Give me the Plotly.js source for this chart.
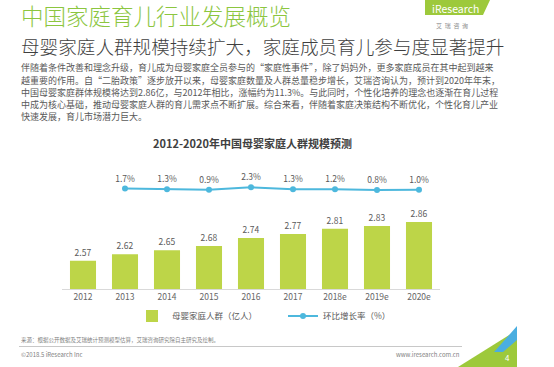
<!DOCTYPE html>
<html>
<head>
<meta charset="utf-8">
<script src="https://cdn.plot.ly/plotly-3.0.1.min.js"></script>
<style>html,body{margin:0;padding:0;background:#fff;}#chart{width:554px;height:367px;}</style>
</head>
<body>
<div id="chart"></div>
<script>
// ---- data ----
const years = ['2012','2013','2014','2015','2016','2017','2018e','2019e','2020e'];
const population = [2.57, 2.62, 2.65, 2.68, 2.74, 2.77, 2.81, 2.83, 2.86];
const growthYears = ['2013','2014','2015','2016','2017','2018e','2019e','2020e'];
const growthRate = [1.7, 1.3, 0.9, 2.3, 1.3, 1.2, 0.8, 1.0];
const barName = '母婴家庭人群（亿人）';
const lineName = '环比增长率（%）';
const chartTitle = '2012-2020年中国母婴家庭人群规模预测';
const pageTitle = '中国家庭育儿行业发展概览';
const pageSubtitle = '母婴家庭人群规模持续扩大，家庭成员育儿参与度显著提升';
const bodyLines = [
  '伴随着条件改善和理念升级，育儿成为母婴家庭全员参与的“家庭性事件”，除了妈妈外，更多家庭成员在其中起到越来',
  '越重要的作用。自“二胎政策”逐步放开以来，母婴家庭数量及人群总量稳步增长，艾瑞咨询认为，预计到2020年年末，',
  '中国母婴家庭群体规模将达到2.86亿，与2012年相比，涨幅约为11.3%。与此同时，个性化培养的理念也逐渐在育儿过程',
  '中成为核心基础，推动母婴家庭人群的育儿需求点不断扩展。综合来看，伴随着家庭决策结构不断优化，个性化育儿产业',
  '快速发展，育儿市场潜力巨大。'
];
const sourceText = '来源：根据公开数据及艾瑞统计预测模型估算，艾瑞咨询研究院自主研究及绘制。';

// ---- layout helpers ----
const W = 554, H = 367;
const M = {l: 62, r: 114, t: 170, b: 78};
const PW = W - M.l - M.r, PH = H - M.t - M.b;
const px = x => (x - M.l) / PW;
const py = y => (H - M.b - y) / PH;
const P = (x, y) => px(x) + ',' + py(y);

const CJK = '"Noto Sans CJK SC", "Noto Sans", sans-serif';
const gray = '#595959';

const traces = [
  {
    type: 'bar', x: years, y: population, name: barName,
    marker: {color: '#bdd548'},
    text: population.map(v => v.toFixed(2)), textposition: 'outside',
    textfont: {size: 8.5, color: gray, family: CJK},
    cliponaxis: false, hoverinfo: 'skip'
  },
  {
    type: 'scatter', mode: 'lines+markers+text', x: growthYears, y: growthRate,
    name: lineName, yaxis: 'y2',
    line: {color: '#4db8dd', width: 2},
    marker: {color: '#4db8dd', size: 6},
    text: growthRate.map(v => v.toFixed(1) + '%'), textposition: 'top center',
    textfont: {size: 8.5, color: gray, family: CJK},
    cliponaxis: false, hoverinfo: 'skip'
  }
];

const annotations = [];
function txt(text, x, y, size, color, anchor, extra) {
  annotations.push(Object.assign({
    text: text, xref: 'paper', yref: 'paper', x: px(x), y: py(y),
    xanchor: anchor || 'left', yanchor: 'middle', showarrow: false,
    font: {size: size, color: color, family: CJK, weight: (extra && extra.w) || 400}
  }, extra ? {} : {}));
}
txt(pageTitle, 19, 15, 22.5, '#8cc63f', 'left', {w: 300});
txt(pageSubtitle, 19, 45, 18.6, '#3f3f3f', 'left', {w: 300});
const lineYs = [67.5, 80, 92, 104.5, 116.5];
bodyLines.forEach((s, i) => txt(s, 19, lineYs[i], 9, gray));
txt('<b>' + chartTitle + '</b>', 252, 143, 11, '#404040', 'center');
txt('iResearch', 455, 8, 10.5, '#ffffff', 'center');
txt('艾  瑞  咨  询', 452, 25, 6, '#8c8c8c', 'center');
txt(sourceText, 19, 340, 5.5, '#7f7f7f');
txt('©2018.5 iResearch Inc', 19, 354, 6, '#7f7f7f');
txt('www.iresearch.com.cn', 462, 354, 6, '#7f7f7f', 'right');
txt('4', 507, 357, 8, '#ffffff', 'center');

const shapes = [
  {type: 'path', xref: 'paper', yref: 'paper', path: 'M' + P(425,0) + 'L' + P(490,0) + 'L' + P(483,15) + 'L' + P(425,15) + 'Z',
   fillcolor: '#9dc93b', line: {width: 0}},
  {type: 'line', xref: 'paper', yref: 'paper', x0: px(19), x1: px(462), y0: py(346.5), y1: py(346.5),
   line: {color: '#c8c8c8', width: 1}},
  {type: 'path', xref: 'paper', yref: 'paper', path: 'M' + P(458,367) + 'L' + P(517,367) + 'L' + P(517,330) + 'Z',
   fillcolor: '#9dc93b', line: {width: 0}},
  {type: 'path', xref: 'paper', yref: 'paper', path: 'M' + P(494,352) + 'L' + P(517,326) + 'L' + P(517,340) + 'L' + P(503,352) + 'Z',
   fillcolor: '#4aaee0', line: {width: 0}}
];

const layout = {
  width: W, height: H,
  margin: M,
  paper_bgcolor: '#ffffff', plot_bgcolor: '#ffffff',
  showlegend: true,
  bargap: 0.38,
  font: {family: CJK, color: gray},
  xaxis: {
    type: 'category', range: [-0.5, 8.5], fixedrange: true,
    showline: true, linecolor: '#d9d9d9', linewidth: 1,
    ticks: '', showgrid: false, zeroline: false,
    tickfont: {size: 8.5, color: '#666666', family: CJK}
  },
  yaxis: {range: [2.36, 2.36 + PH / 134], visible: false, showgrid: false, zeroline: false, fixedrange: true},
  yaxis2: {range: [11.94 - PH / 1.8, 11.94], overlaying: 'y', side: 'right', visible: false,
           showgrid: false, zeroline: false, fixedrange: true},
  legend: {
    orientation: 'h', xref: 'paper', yref: 'paper',
    x: px(132), y: py(316), xanchor: 'left', yanchor: 'middle',
    entrywidth: 106, entrywidthmode: 'pixels',
    font: {size: 8.5, color: gray, family: CJK},
    bgcolor: 'rgba(0,0,0,0)', borderwidth: 0
  },
  annotations: annotations,
  shapes: shapes
};

Plotly.newPlot('chart', traces, layout, {displayModeBar: false, staticPlot: true});
</script>
</body>
</html>
